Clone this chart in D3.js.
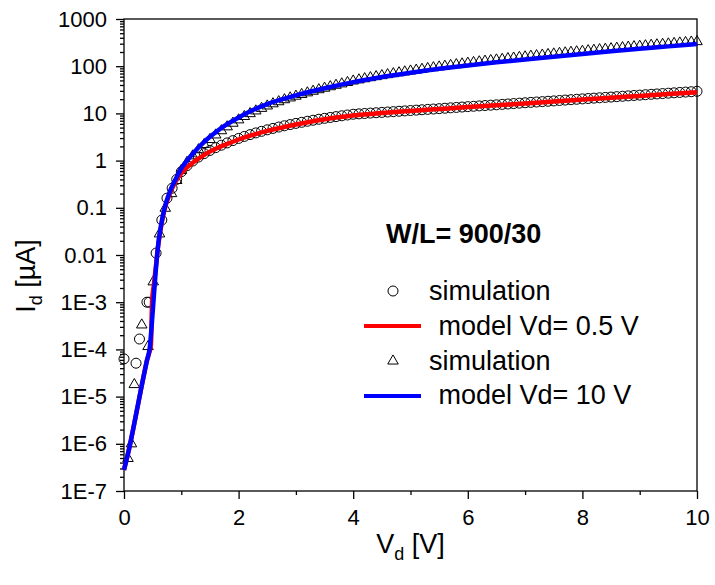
<!DOCTYPE html>
<html>
<head>
<meta charset="utf-8">
<script src="https://cdn.jsdelivr.net/npm/d3@7"></script>
<style>
  html, body { margin: 0; padding: 0; background: #fff; }
  svg { display: block; }
  text { font-family: "Liberation Sans", Arial, sans-serif; fill: #000; }
</style>
</head>
<body>
<svg id="chart" width="715" height="585"></svg>
<script>
// Gate voltage sweep values (V) and drain current (µA)

// Model curve, Vd = 0.5 V
const modelLowV = [0, 0.1, 0.2, 0.3, 0.4, 0.47, 0.49, 0.52, 0.55, 0.6, 0.65, 0.7, 0.8, 0.9,
  1.0, 1.1, 1.2, 1.3, 1.4, 1.5, 1.6, 1.8, 2.0, 2.25, 2.5, 2.75, 3.0, 3.5, 4.0, 4.5, 5.0,
  5.5, 6.0, 6.5, 7.0, 7.5, 8.0, 8.5, 9.0, 9.5, 10.0];
const modelLowI = [2.8e-7, 9e-7, 3.6e-6, 1.5e-5, 5.8e-5, 1.25e-4, 1.05e-3, 2.3e-3, 4.8e-3, 0.017, 0.042, 0.085, 0.2, 0.36,
  0.54, 0.72, 0.9, 1.1, 1.32, 1.55, 1.78, 2.25, 2.8, 3.5, 4.25, 5.0, 5.8, 7.5, 9.0, 10.2, 11.3,
  12.4, 13.6, 14.9, 16.3, 17.9, 19.6, 21.5, 23.5, 25.8, 28.2];

// Model curve, Vd = 10 V
const modelHighV = [0, 0.1, 0.2, 0.3, 0.4, 0.45, 0.5, 0.55, 0.6, 0.65, 0.7, 0.8, 0.9,
  1.0, 1.1, 1.2, 1.3, 1.4, 1.5, 1.6, 1.8, 2.0, 2.25, 2.5, 3.0, 3.5, 4.0, 4.5, 5.0, 5.5,
  6.0, 6.5, 7.0, 7.5, 8.0, 8.5, 9.0, 9.5, 10.0];
const modelHighI = [2.8e-7, 9e-7, 3.6e-6, 1.5e-5, 5.8e-5, 1.1e-4, 6e-4, 4e-3, 0.018, 0.045, 0.09, 0.22, 0.4,
  0.68, 1.0, 1.4, 1.9, 2.5, 3.2, 4.0, 5.9, 8.2, 11.8, 15.8, 24, 34, 46, 59, 73, 88,
  104, 121, 139, 159, 182, 207, 233, 263, 297];

// Simulation, Vd = 0.5 V
const simLowV = [0.0, 0.21, 0.27, 0.4, 0.44, 0.56, 0.66, 0.75, 0.84, 0.92,
  1.0, 1.1, 1.2, 1.3, 1.4, 1.5, 1.6, 1.7, 1.8, 1.9,
  2.0, 2.1, 2.2, 2.3, 2.4, 2.5, 2.6, 2.7, 2.8, 2.9,
  3.0, 3.1, 3.2, 3.3, 3.4, 3.5, 3.6, 3.7, 3.8, 3.9,
  4.0, 4.1, 4.2, 4.3, 4.4, 4.5, 4.6, 4.7, 4.8, 4.9,
  5.0, 5.1, 5.2, 5.3, 5.4, 5.5, 5.6, 5.7, 5.8, 5.9,
  6.0, 6.1, 6.2, 6.3, 6.4, 6.5, 6.6, 6.7, 6.8, 6.9,
  7.0, 7.1, 7.2, 7.3, 7.4, 7.5, 7.6, 7.7, 7.8, 7.9,
  8.0, 8.1, 8.2, 8.3, 8.4, 8.5, 8.6, 8.7, 8.8, 8.9,
  9.0, 9.1, 9.2, 9.3, 9.4, 9.5, 9.6, 9.7, 9.8, 9.9, 10.0];
const simLowI = [6.3e-5, 5.1e-5, 1.66e-4, 1e-3, 1e-3, 0.011, 0.055, 0.16, 0.26, 0.4,
  0.58, 0.78, 0.98, 1.19, 1.41, 1.64, 1.88, 2.12, 2.37, 2.65,
  2.95, 3.25, 3.55, 3.86, 4.17, 4.49, 4.81, 5.14, 5.47, 5.8,
  6.14, 6.48, 6.82, 7.16, 7.51, 7.86, 8.21, 8.55, 8.9, 9.25,
  9.6, 9.78, 9.96, 10.15, 10.33, 10.5, 10.7, 10.9, 11.1, 11.3,
  11.5, 11.72, 11.94, 12.16, 12.38, 12.6, 12.86, 13.12, 13.38, 13.64,
  13.9, 14.16, 14.42, 14.68, 14.94, 15.2, 15.52, 15.84, 16.16, 16.48,
  16.8, 17.12, 17.44, 17.76, 18.08, 18.4, 18.78, 19.16, 19.54, 19.92,
  20.3, 20.68, 21.06, 21.44, 21.82, 22.2, 22.64, 23.08, 23.52, 23.96,
  24.4, 24.88, 25.36, 25.84, 26.32, 26.8, 27.3, 27.8, 28.3, 28.8, 29.4];

// Simulation, Vd = 10 V
const simHighV = [0.07, 0.13, 0.18, 0.31, 0.42, 0.51, 0.62, 0.72, 0.83, 0.92,
  1.0, 1.1, 1.2, 1.3, 1.4, 1.5, 1.6, 1.7, 1.8, 1.9,
  2.0, 2.1, 2.2, 2.3, 2.4, 2.5, 2.6, 2.7, 2.8, 2.9,
  3.0, 3.1, 3.2, 3.3, 3.4, 3.5, 3.6, 3.7, 3.8, 3.9,
  4.0, 4.1, 4.2, 4.3, 4.4, 4.5, 4.6, 4.7, 4.8, 4.9,
  5.0, 5.1, 5.2, 5.3, 5.4, 5.5, 5.6, 5.7, 5.8, 5.9,
  6.0, 6.1, 6.2, 6.3, 6.4, 6.5, 6.6, 6.7, 6.8, 6.9,
  7.0, 7.1, 7.2, 7.3, 7.4, 7.5, 7.6, 7.7, 7.8, 7.9,
  8.0, 8.1, 8.2, 8.3, 8.4, 8.5, 8.6, 8.7, 8.8, 8.9,
  9.0, 9.1, 9.2, 9.3, 9.4, 9.5, 9.6, 9.7, 9.8, 9.9, 10.0];
const simHighI = [4.9e-7, 1e-6, 1.8e-5, 3.3e-4, 1.15e-4, 2.7e-3, 0.028, 0.098, 0.2, 0.38,
  0.62, 0.92, 1.26, 1.7, 2.2, 2.8, 3.5, 4.3, 5.2, 6.2,
  7.3, 8.6, 9.9, 11.3, 12.8, 14.4, 16.0, 17.7, 19.5, 21.3,
  23.2, 25.2, 27.3, 29.5, 31.8, 34.2, 36.8, 39.5, 42.3, 45.2,
  48.6, 51.4, 54.3, 57.2, 60.2, 63.2, 66.3, 69.4, 72.6, 75.9,
  79.2, 82.6, 86.0, 89.5, 93.0, 96.6, 100, 104, 108, 112,
  116, 120, 124, 128, 132, 136, 140, 145, 149, 154,
  158, 163, 167, 172, 177, 182, 187, 192, 197, 202,
  207, 213, 218, 224, 229, 235, 241, 247, 253, 259,
  265, 271, 278, 284, 291, 297, 304, 311, 318, 325, 332];

// Axis ticks
const xMajorTicks = [0, 2, 4, 6, 8, 10];
const xMinorTicks = [1, 3, 5, 7, 9];
const yMajorTicks = [1e-7, 1e-6, 1e-5, 1e-4, 1e-3, 0.01, 0.1, 1, 10, 100, 1000];
const yTickLabels = ["1E-7", "1E-6", "1E-5", "1E-4", "1E-3", "0.01", "0.1", "1", "10", "100", "1000"];

// Legend entries
const legendTitle = "W/L= 900/30";
const legendLabels = ["simulation", " model Vd= 0.5 V", "simulation", " model Vd= 10 V"];

const svg = d3.select("#chart");
const plotL = 124, plotR = 697, plotT = 19, plotB = 491;

const x = d3.scaleLinear().domain([0, 10]).range([plotL, plotR]);
const y = d3.scaleLog().domain([1e-7, 1000]).range([plotB, plotT]);

const yMinorTicks = [];
for (let e = -7; e < 3; e++) {
  for (let m = 2; m <= 9; m++) yMinorTicks.push(m * Math.pow(10, e));
}

// Frame
svg.append("rect")
  .attr("x", plotL).attr("y", plotT)
  .attr("width", plotR - plotL).attr("height", plotB - plotT)
  .attr("fill", "none").attr("stroke", "#000").attr("stroke-width", 1.3);

const fontTick = "22px";

// X axis
const gx = svg.append("g").attr("transform", `translate(0,${plotB})`);
gx.call(d3.axisBottom(x).tickValues(xMajorTicks).tickSize(8).tickPadding(10)
  .tickFormat(d3.format("d")));
gx.append("g").call(d3.axisBottom(x).tickValues(xMinorTicks).tickSize(4).tickFormat(""));
gx.selectAll(".domain").remove();
gx.selectAll("line").attr("stroke", "#000").attr("stroke-width", 1.3);
gx.selectAll("text").style("font-size", fontTick).style("font-family", "Liberation Sans, Arial, sans-serif").attr("fill", "#000");

// Y axis
const gy = svg.append("g").attr("transform", `translate(${plotL},0)`);
gy.call(d3.axisLeft(y).tickValues(yMajorTicks).tickSize(8).tickPadding(9)
  .tickFormat((d, i) => yTickLabels[i]));
gy.append("g").call(d3.axisLeft(y).tickValues(yMinorTicks).tickSize(4).tickFormat(""));
gy.selectAll(".domain").remove();
gy.selectAll("line").attr("stroke", "#000").attr("stroke-width", 1.3);
gy.selectAll("text").style("font-size", fontTick).style("font-family", "Liberation Sans, Arial, sans-serif").attr("fill", "#000");

// Axis titles
const xTitle = svg.append("text")
  .attr("x", (plotL + plotR) / 2).attr("y", 553)
  .attr("text-anchor", "middle").style("font-size", "27px");
xTitle.append("tspan").text("V");
xTitle.append("tspan").attr("dy", 7).style("font-size", "18px").text("d");
xTitle.append("tspan").attr("dy", -7).text(" [V]");

const yTitle = svg.append("text")
  .attr("transform", `translate(35,${(plotT + plotB) / 2 + 21}) rotate(-90)`)
  .attr("text-anchor", "middle").style("font-size", "27px");
yTitle.append("tspan").text("I");
yTitle.append("tspan").attr("dy", 7).style("font-size", "18px").text("d");
yTitle.append("tspan").attr("dy", -7).text(" [\u00B5A]");

// Markers
const circleData = simLowV.map((v, i) => [v, simLowI[i]]);
const triData = simHighV.map((v, i) => [v, simHighI[i]]);
const triSym = d3.symbol().type(d3.symbolTriangle).size(48);

svg.append("g").selectAll("circle").data(circleData).join("circle")
  .attr("cx", d => x(d[0])).attr("cy", d => y(d[1])).attr("r", 5)
  .attr("fill", "none").attr("stroke", "#000").attr("stroke-width", 1);

svg.append("g").selectAll("path").data(triData).join("path")
  .attr("d", triSym)
  .attr("transform", d => `translate(${x(d[0])},${y(d[1])})`)
  .attr("fill", "none").attr("stroke", "#000").attr("stroke-width", 1);

// Model lines
const line = d3.line().x(d => x(d[0])).y(d => y(d[1])).curve(d3.curveMonotoneX);
svg.append("path").datum(modelLowV.map((v, i) => [v, modelLowI[i]]))
  .attr("d", line).attr("fill", "none").attr("stroke", "#ff0000").attr("stroke-width", 4.5);
svg.append("path").datum(modelHighV.map((v, i) => [v, modelHighI[i]]))
  .attr("d", line).attr("fill", "none").attr("stroke", "#0000ff").attr("stroke-width", 4.5);

// Legend
svg.append("text").attr("x", 386).attr("y", 243)
  .style("font-size", "27px").style("font-weight", "bold").text(legendTitle);

const lg = svg.append("g");
lg.append("circle").attr("cx", 393).attr("cy", 291).attr("r", 5)
  .attr("fill", "none").attr("stroke", "#000");
lg.append("line").attr("x1", 364).attr("x2", 421).attr("y1", 326).attr("y2", 326)
  .attr("stroke", "#ff0000").attr("stroke-width", 4);
lg.append("path").attr("d", triSym).attr("transform", "translate(393,361)")
  .attr("fill", "none").attr("stroke", "#000");
lg.append("line").attr("x1", 364).attr("x2", 421).attr("y1", 396).attr("y2", 396)
  .attr("stroke", "#0000ff").attr("stroke-width", 4);

const legendX = [429, 431, 429, 431];
const legendY = [300, 335, 370, 404];
lg.selectAll("text.lbl").data(legendLabels).join("text")
  .attr("class", "lbl")
  .attr("x", (d, i) => legendX[i]).attr("y", (d, i) => legendY[i])
  .attr("xml:space", "preserve")
  .style("white-space", "pre")
  .style("font-size", "27px").text(d => d);
</script>
</body>
</html>
